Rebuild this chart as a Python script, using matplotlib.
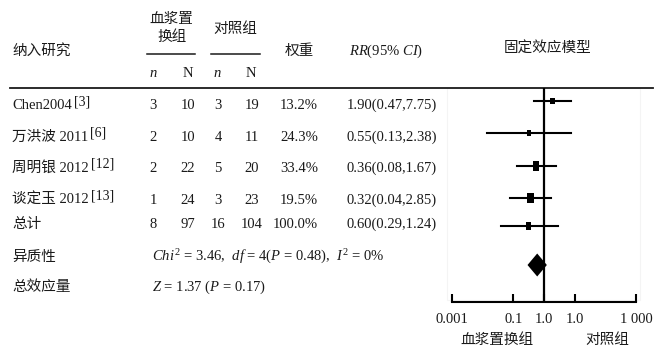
import matplotlib
matplotlib.use("Agg")
import matplotlib.pyplot as plt
from matplotlib.patches import Rectangle, Polygon

plt.rcParams['font.family'] = ['Liberation Serif', 'Noto Sans CJK SC']
plt.rcParams['mathtext.fontset'] = 'custom'
plt.rcParams['mathtext.rm'] = 'Liberation Serif'
plt.rcParams['mathtext.it'] = 'Liberation Serif:italic'

# ---- table data ----
study_names = ["Chen2004", "万洪波 2011", "周明银 2012", "谈定玉 2012"]
study_refs = ["[3]", "[6]", "[12]", "[13]"]
exp_events = [3, 2, 2, 1]
exp_total = [10, 10, 22, 24]
ctl_events = [3, 4, 5, 3]
ctl_total = [19, 11, 20, 23]
weights = [13.2, 24.3, 33.4, 19.5]
rr = [1.90, 0.55, 0.36, 0.32]
rr_lo = [0.47, 0.13, 0.08, 0.04]
rr_hi = [7.75, 2.38, 1.67, 2.85]

total_counts = [8, 97, 16, 104]
total_weight = 100.0
total_rr, total_lo, total_hi = 0.60, 0.29, 1.24

# ---- forest plot marks (five studies drawn in the plot panel) ----
forest_rr = [1.90, 0.33, 0.55, 0.36, 0.32]
forest_lo = [0.47, 0.014, 0.13, 0.08, 0.04]
forest_hi = [7.75, 7.87, 2.38, 1.67, 2.85]
forest_w = [13.2, 9.6, 24.3, 33.4, 19.5]

tick_values = [0.001, 0.1, 1, 10, 1000]
tick_labels = ["0.001", "0.1", "1.0", "1.0", "1 000"]

W, H = 654, 347
fig = plt.figure(figsize=(W / 100, H / 100), dpi=100)
tab = fig.add_axes([0, 0, 1, 1])
tab.set_xlim(0, W)
tab.set_ylim(H, 0)
tab.axis("off")

fs = 10.5
tc = "#1a1a1a"

def txt(x, y, s, ha="left", **kw):
    return tab.text(x, y, s, ha=ha, va="center", fontsize=fs, color=tc, **kw)

# header
txt(12, 51, "纳入研究")
txt(171, 19, "血浆置", ha="center")
txt(172, 37, "换组", ha="center")
txt(235, 29, "对照组", ha="center")
tab.plot([147, 195], [53.5, 53.5], color=tc, lw=1.1)
tab.plot([211, 260], [53.5, 53.5], color=tc, lw=1.1)
for x, s in zip([153, 188, 217, 251], ["n", "N", "n", "N"]):
    txt(x, 73, s, ha="center", style="italic" if s == "n" else "normal")
txt(299, 51, "权重", ha="center")
txt(386, 51, r"$RR$(95% $CI$)", ha="center")
txt(548, 49, "固定效应模型", ha="center")
tab.plot([10, 653], [88, 88], color=tc, lw=1.3)

# study rows
row_y = [105, 137, 168, 200]
col_x = [153, 188, 218, 252]
for i, y in enumerate(row_y):
    t = txt(12, y, study_names[i])
    tab.annotate(study_refs[i], xy=(1, 1), xycoords=t, xytext=(1.5, 2.5),
                 textcoords="offset points", ha="left", va="top",
                 fontsize=fs - 0.5, color=tc)
    vals = [exp_events[i], exp_total[i], ctl_events[i], ctl_total[i]]
    for x, v in zip(col_x, vals):
        txt(x, y, str(v), ha="center")
    txt(318, y, f"{weights[i]:.1f}%", ha="right")
    txt(437, y, f"{rr[i]:.2f}({rr_lo[i]:.2f},{rr_hi[i]:.2f})", ha="right")

# total row
ty = 224
txt(12, ty, "总计")
for x, v in zip(col_x, total_counts):
    txt(x, ty, str(v), ha="center")
txt(318, ty, f"{total_weight:.1f}%", ha="right")
txt(437, ty, f"{total_rr:.2f}({total_lo:.2f},{total_hi:.2f})", ha="right")

txt(12, 257, "异质性")
txt(152, 257, r"$Chi^{2}$ = 3.46,  $df$ = 4($P$ = 0.48),  $I^{2}$ = 0%")
txt(12, 287, "总效应量")
txt(152, 287, r"$Z$ = 1.37 ($P$ = 0.17)")

# faint panel frame
tab.add_patch(Rectangle((447, 88), 193, 212, fill=False, ec="#f4f4f4", lw=0.8))

# ---- forest panel ----
x0, x1 = 452, 636
y_top, y_axis = 88, 302
fa = fig.add_axes([x0 / W, 1 - y_axis / H, (x1 - x0) / W, (y_axis - y_top) / H])
fa.set_xscale("log")
fa.set_xlim(tick_values[0], tick_values[-1])
fa.set_ylim(y_axis, y_top)
fa.patch.set_alpha(0)
for side in ["top", "left", "right"]:
    fa.spines[side].set_visible(False)
fa.spines["bottom"].set_linewidth(1.5)
fa.set_yticks([])
fa.set_xticks(tick_values)
fa.set_xticklabels(tick_labels)
fa.minorticks_off()
fa.tick_params(axis="x", direction="in", length=6, width=1.5, pad=8,
               labelsize=fs, labelcolor=tc)

px_per_decade = (x1 - x0) / 6.0
fa.axvline(1, color="black", lw=1.6)

forest_y = [101, 133, 166, 198, 226]
for i, y in enumerate(forest_y):
    fa.plot([forest_lo[i], forest_hi[i]], [y, y], color="black", lw=1.5)
    w = 1.2 * forest_w[i] ** 0.5
    h = 1.9 * forest_w[i] ** 0.5
    f = 10 ** (w / 2 / px_per_decade)
    fa.add_patch(Rectangle((forest_rr[i] / f, y - h / 2), forest_rr[i] * f - forest_rr[i] / f, h,
                           color="black", lw=0))

dy, dh = 265, 23
fa.add_patch(Polygon([(total_lo, dy), (total_rr, dy - dh / 2), (total_hi, dy),
                      (total_rr, dy + dh / 2)], closed=True, color="black", lw=0))

txt(497, 340, "血浆置换组", ha="center")
txt(607, 340, "对照组", ha="center")

fig.savefig("out.png", dpi=100)
